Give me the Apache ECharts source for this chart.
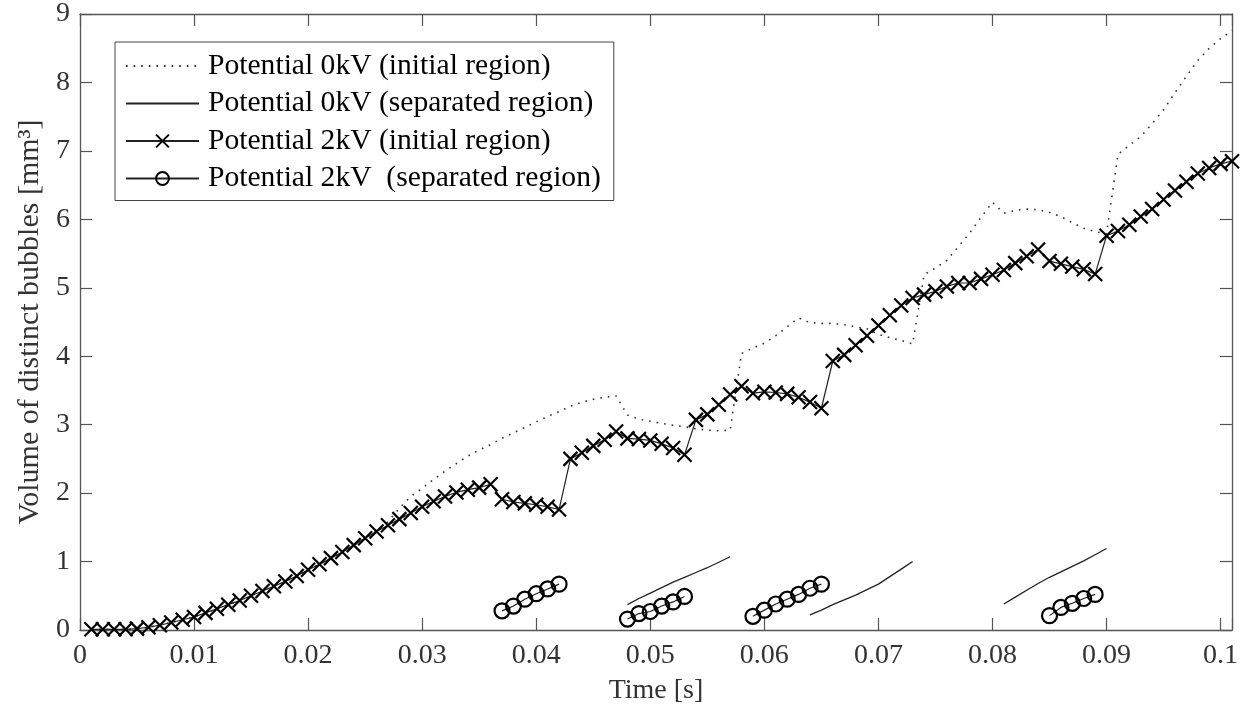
<!DOCTYPE html>
<html>
<head>
<meta charset="utf-8">
<script src="https://cdn.jsdelivr.net/npm/echarts@6/dist/echarts.min.js"></script>
<style>
html, body { margin: 0; padding: 0; background: #fff; }
#chart { width: 1249px; height: 717px; }
</style>
</head>
<body>
<div id="chart"></div>
<script>
// frame times [s]
const time = [
  0.001, 0.002, 0.003, 0.004, 0.005, 0.006, 0.007, 0.008, 0.009, 0.010,
  0.011, 0.012, 0.013, 0.014, 0.015, 0.016, 0.017, 0.018, 0.019, 0.020,
  0.021, 0.022, 0.023, 0.024, 0.025, 0.026, 0.027, 0.028, 0.029, 0.030,
  0.031, 0.032, 0.033, 0.034, 0.035, 0.036, 0.037, 0.038, 0.039, 0.040,
  0.041, 0.042, 0.043, 0.044, 0.045, 0.046, 0.047, 0.048, 0.049, 0.050,
  0.051, 0.052, 0.053, 0.054, 0.055, 0.056, 0.057, 0.058, 0.059, 0.060,
  0.061, 0.062, 0.063, 0.064, 0.065, 0.066, 0.067, 0.068, 0.069, 0.070,
  0.071, 0.072, 0.073, 0.074, 0.075, 0.076, 0.077, 0.078, 0.079, 0.080,
  0.081, 0.082, 0.083, 0.084, 0.085, 0.086, 0.087, 0.088, 0.089, 0.090,
  0.091, 0.092, 0.093, 0.094, 0.095, 0.096, 0.097, 0.098, 0.099, 0.100,
  0.101
];
// 0kV, initial region [mm3]
const vol0kVInit = [
  0.01, 0.01, 0.01, 0.01, 0.02, 0.04, 0.07, 0.11, 0.15, 0.19,
  0.25, 0.31, 0.37, 0.43, 0.50, 0.57, 0.64, 0.71, 0.79, 0.88,
  0.96, 1.05, 1.14, 1.24, 1.34, 1.45, 1.58, 1.78, 1.95, 2.07,
  2.20, 2.32, 2.43, 2.54, 2.63, 2.71, 2.80, 2.88, 2.96, 3.04,
  3.12, 3.19, 3.27, 3.33, 3.37, 3.40, 3.42, 3.14, 3.08, 3.05,
  3.02, 2.99, 2.97, 2.94, 2.92, 2.91, 2.92, 4.04, 4.12, 4.19,
  4.30, 4.43, 4.56, 4.49, 4.48, 4.48, 4.46, 4.43, 4.40, 4.32,
  4.27, 4.23, 4.18, 5.19, 5.29, 5.40, 5.60, 5.80, 6.03, 6.25,
  6.09, 6.13, 6.15, 6.14, 6.10, 6.04, 5.95, 5.87, 5.82, 5.79,
  6.95, 7.08, 7.21, 7.40, 7.60, 7.85, 8.09, 8.32, 8.50, 8.64,
  8.76
];
// 2kV, initial region [mm3]
const vol2kVInit = [
  0.01, 0.01, 0.01, 0.01, 0.02, 0.04, 0.07, 0.11, 0.15, 0.19,
  0.25, 0.31, 0.37, 0.43, 0.50, 0.57, 0.64, 0.71, 0.79, 0.88,
  0.96, 1.05, 1.14, 1.24, 1.34, 1.44, 1.53, 1.62, 1.71, 1.80,
  1.88, 1.95, 2.01, 2.05, 2.08, 2.13, 1.91, 1.87, 1.85, 1.83,
  1.80, 1.76, 2.50, 2.59, 2.69, 2.78, 2.90, 2.80, 2.79, 2.77,
  2.72, 2.66, 2.56, 3.07, 3.15, 3.29, 3.44, 3.56, 3.46, 3.48,
  3.47, 3.45, 3.40, 3.33, 3.24, 3.93, 4.02, 4.16, 4.30, 4.45,
  4.60, 4.74, 4.85, 4.90, 4.95, 5.02, 5.07, 5.07, 5.13, 5.19,
  5.26, 5.36, 5.46, 5.56, 5.39, 5.35, 5.31, 5.27, 5.20, 5.76,
  5.83, 5.92, 6.04, 6.15, 6.29, 6.42, 6.55, 6.67, 6.75, 6.81,
  6.85
];
// 0kV, separated region (null = gap between bubbles)
const time0kVSep = [
  0.048, 0.049, 0.050, 0.051, 0.052, 0.053, 0.054, 0.055, 0.056, 0.057, 0.058,
  0.064, 0.065, 0.066, 0.067, 0.068, 0.069, 0.070, 0.071, 0.072, 0.073, 0.074,
  0.081, 0.082, 0.083, 0.084, 0.085, 0.086, 0.087, 0.088, 0.089, 0.090
];
const vol0kVSep = [
  0.37, 0.46, 0.54, 0.62, 0.70, 0.77, 0.84, 0.91, 0.99, 1.07, null,
  0.22, 0.29, 0.37, 0.44, 0.51, 0.59, 0.67, 0.78, 0.89, 1.00, null,
  0.38, 0.48, 0.58, 0.68, 0.77, 0.85, 0.93, 1.01, 1.10, 1.19
];
// 2kV, separated region
const time2kVSep = [
  0.037, 0.038, 0.039, 0.040, 0.041, 0.042, 0.043,
  0.048, 0.049, 0.050, 0.051, 0.052, 0.053, 0.054,
  0.059, 0.060, 0.061, 0.062, 0.063, 0.064, 0.065, 0.066,
  0.085, 0.086, 0.087, 0.088, 0.089
];
const vol2kVSep = [
  0.28, 0.35, 0.45, 0.53, 0.60, 0.67, null,
  0.16, 0.24, 0.27, 0.35, 0.41, 0.49, null,
  0.20, 0.29, 0.38, 0.45, 0.52, 0.61, 0.67, null,
  0.21, 0.33, 0.39, 0.46, 0.52
];
const xTickLabels = ['0', '0.01', '0.02', '0.03', '0.04', '0.05', '0.06', '0.07', '0.08', '0.09', '0.1'];
const yTickLabels = ['0', '1', '2', '3', '4', '5', '6', '7', '8', '9'];
const names = [
  'Potential 0kV (initial region)',
  'Potential 0kV (separated region)',
  'Potential 2kV (initial region)',
  'Potential 2kV  (separated region)'
];

const font = 'Liberation Serif';
const axisColor = '#555';
const crossPath = 'path://M0,0L10,10M10,0L0,10';
const clear = 'rgba(0,0,0,0)';

const pairs = (ts, vs) => ts.map((t, i) => [t, vs[i] === null ? '-' : vs[i]]);

const xLabel = v => {
  const i = Math.round(v / 0.01);
  return Math.abs(v - i * 0.01) < 1e-7 && i < xTickLabels.length ? xTickLabels[i] : '';
};
const yLabel = v => {
  const i = Math.round(v);
  return Math.abs(v - i) < 1e-7 && i < yTickLabels.length ? yTickLabels[i] : '';
};

// every side of the box: line + inward ticks
const boxAxis = () => ({
  axisLine: { show: true, onZero: false, lineStyle: { color: axisColor, width: 1.3 } },
  axisTick: { show: true, inside: true, length: 12, lineStyle: { color: axisColor, width: 1.2 } },
  splitLine: { show: false }
});

const chart = echarts.init(document.getElementById('chart'));
chart.setOption({
  animation: false,
  backgroundColor: '#fff',
  grid: { left: 80, right: 17, top: 14, bottom: 87, outerBoundsMode: 'none' },
  legend: {
    data: names,
    orient: 'vertical',
    left: 115,
    top: 42,
    padding: [9, 13, 7, 10],
    itemWidth: 73,
    itemHeight: 16,
    itemGap: 7.5,
    borderColor: '#444',
    borderWidth: 1,
    backgroundColor: '#fff',
    textStyle: { fontFamily: font, fontSize: 29.6, lineHeight: 29, color: '#000', padding: [0, 0, 0, 4] }
  },
  xAxis: [
    Object.assign({
      type: 'value', position: 'bottom', min: 0, max: 0.101, interval: 0.01,
      name: 'Time [s]', nameLocation: 'middle', nameGap: 47,
      nameTextStyle: { fontFamily: font, fontSize: 28, color: '#333' },
      axisLabel: { formatter: xLabel, fontFamily: font, fontSize: 28, color: '#333', margin: 12 }
    }, boxAxis()),
    Object.assign({
      type: 'value', position: 'top', min: 0, max: 0.101, interval: 0.01,
      axisLabel: { show: false }
    }, boxAxis())
  ],
  yAxis: [
    Object.assign({
      type: 'value', position: 'left', min: 0, max: 9, interval: 1,
      name: 'Volume of distinct bubbles [mm³]', nameLocation: 'middle', nameGap: 34,
      nameTextStyle: { fontFamily: font, fontSize: 30, color: '#333' },
      axisLabel: { formatter: yLabel, fontFamily: font, fontSize: 28, color: '#333', margin: 10 }
    }, boxAxis()),
    Object.assign({
      type: 'value', position: 'right', min: 0, max: 9, interval: 1,
      axisLabel: { show: false }
    }, boxAxis())
  ],
  series: [
    {
      name: names[0], type: 'line', data: pairs(time, vol0kVInit),
      symbol: 'none', z: 2,
      lineStyle: { color: '#333', width: 1.6, type: [1.6, 6] },
      itemStyle: { color: clear }
    },
    {
      name: names[1], type: 'line', data: pairs(time0kVSep, vol0kVSep),
      symbol: 'none', connectNulls: false, z: 3,
      lineStyle: { color: '#222', width: 1.3 },
      itemStyle: { color: clear }
    },
    {
      name: names[2], type: 'line', data: pairs(time, vol2kVInit),
      symbol: crossPath, symbolSize: 14, showAllSymbol: true, z: 4,
      lineStyle: { color: '#222', width: 1.2 },
      itemStyle: { color: clear, borderColor: '#000', borderWidth: 2.2 }
    },
    {
      name: names[3], type: 'line', data: pairs(time2kVSep, vol2kVSep),
      symbol: 'circle', symbolSize: 15, showAllSymbol: true, connectNulls: false, z: 5,
      lineStyle: { color: '#222', width: 1.2 },
      itemStyle: { color: clear, borderColor: '#000', borderWidth: 2.2 }
    }
  ]
});
</script>
</body>
</html>
